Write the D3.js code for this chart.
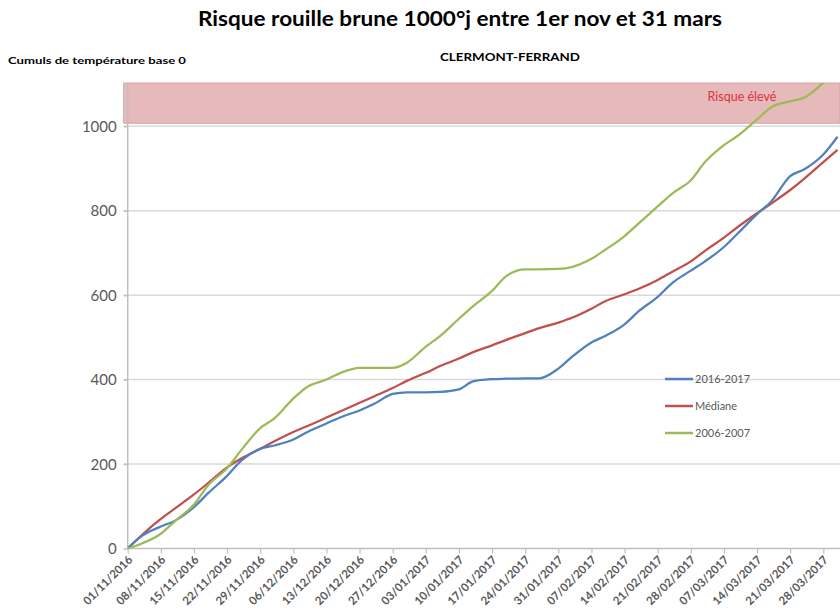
<!DOCTYPE html>
<html><head><meta charset="utf-8">
<script src="https://cdn.jsdelivr.net/npm/d3@7"></script>
<style>
body{margin:0;background:#fff;}
svg{display:block;font-family:Lato,"Open Sans",sans-serif;}
</style></head>
<body><svg id="c" width="840" height="614"></svg>
<script>
// ---- data ----
const startDate = "2016-11-01";
const dayOffsets = [0,3,7,10,14,17,21,24,28,31,35,38,42,45,49,52,56,59,63,66,70,73,77,80,84,87,91,94,98,101,105,108,112,115,119,122,126,129,133,136,140,143,147,150];
const serie2016 = [0,30,52,66,98,131,172,208,236,244,258,276,296,311,327,342,366,370,370,371,377,396,401,402,403,403,426,455,488,504,531,562,596,628,658,680,714,747,792,822,882,898,933,975];
const serieMediane = [0,32,70,95,128,155,192,213,236,254,276,290,310,325,345,360,380,397,416,432,450,465,481,494,510,522,535,547,568,586,602,615,636,655,680,705,736,762,794,817,849,876,915,944];
const serie2006 = [0,12,35,65,104,150,190,233,285,308,355,383,400,416,428,428,428,440,478,503,544,574,610,645,661,661,662,667,686,708,740,770,810,840,872,915,955,978,1016,1045,1059,1068,1103,1135];
const seriesNames = ["2016-2017","Médiane","2006-2007"];
const seriesColors = ["#4f81bd","#c0504d","#9bbb59"];
const tickLabels = ["01/11/2016","08/11/2016","15/11/2016","22/11/2016","29/11/2016","06/12/2016","13/12/2016","20/12/2016","27/12/2016","03/01/2017","10/01/2017","17/01/2017","24/01/2017","31/01/2017","07/02/2017","14/02/2017","21/02/2017","28/02/2017","07/03/2017","14/03/2017","21/03/2017","28/03/2017"];
const yTicks = [0,200,400,600,800,1000];
const riskBand = [1000,1100];
const title = "Risque rouille brune 1000°j entre 1er nov et 31 mars";
const subtitle = "CLERMONT-FERRAND";
const yLabel = "Cumuls de température base 0";
const riskLabel = "Risque élevé";

// ---- chart ----
(function(){
const svg = d3.select("#c");
const W = 840;
const parse = d3.timeParse("%Y-%m-%d");
const parseFr = d3.timeParse("%d/%m/%Y");
const t0 = parse(startDate);
const dates = dayOffsets.map(d => d3.timeDay.offset(t0, d));
const pLeft = 127.7, pBottom = 548.5, pTop = 84;
const x = d3.scaleTime().domain([t0, d3.timeDay.offset(t0,150)]).range([pLeft, pLeft + 150*4.732]);
const y = d3.scaleLinear().domain([0,1100]).range([pBottom, pTop]);

svg.append("defs").append("clipPath").attr("id","clip")
  .append("rect").attr("x",pLeft).attr("y",pTop-1).attr("width",W-pLeft).attr("height",pBottom-pTop+1);

// titles
svg.append("text").attr("x",460).attr("y",26).attr("text-anchor","middle")
  .attr("font-size",20).attr("font-weight","bold").attr("fill","#000")
  .attr("textLength",524).attr("lengthAdjust","spacingAndGlyphs").text(title);
svg.append("text").attr("x",510).attr("y",61).attr("text-anchor","middle")
  .attr("font-size",11).attr("font-weight","bold").attr("fill","#000")
  .attr("textLength",140).attr("lengthAdjust","spacingAndGlyphs").text(subtitle);
svg.append("text").attr("x",8).attr("y",64)
  .attr("font-size",10).attr("font-weight","bold").attr("fill","#000")
  .attr("textLength",178).attr("lengthAdjust","spacingAndGlyphs").text(yLabel);

// risk band
svg.append("rect").attr("x",pLeft-4).attr("y",y(riskBand[1])-1)
  .attr("width",W-pLeft+4).attr("height",y(riskBand[0])-y(riskBand[1])-2)
  .attr("fill","#e6baba").attr("stroke","#d9a3a3").attr("stroke-width",1);
svg.append("text").attr("x",742).attr("y",101).attr("text-anchor","middle")
  .attr("font-size",12.5).attr("fill","#e0303a").text(riskLabel);

// gridlines
svg.append("g").selectAll("line").data(yTicks.filter(v=>v>0)).join("line")
  .attr("x1",pLeft-4).attr("x2",W).attr("y1",d=>y(d)).attr("y2",d=>y(d))
  .attr("stroke","#d9d9d9").attr("stroke-width",1.5);

// y axis
const yAxis = svg.append("g").attr("transform",`translate(${pLeft},0)`)
  .call(d3.axisLeft(y).tickValues(yTicks).tickSize(4).tickPadding(7).tickFormat(d3.format("d")));
yAxis.select(".domain").attr("stroke","#bfbfbf").attr("stroke-width",1.5).attr("d",`M0,${pBottom}V${pTop}`);
yAxis.selectAll(".tick line").attr("stroke","#bfbfbf").attr("stroke-width",1.5);
yAxis.selectAll(".tick text").attr("font-size",15).attr("fill","#595959").attr("font-family","Lato,'Open Sans',sans-serif").attr("dy","0.35em");

// x axis
const xAxis = svg.append("g").attr("transform",`translate(0,${pBottom})`)
  .call(d3.axisBottom(x).tickValues(tickLabels.map(parseFr)).tickSize(5).tickFormat(d3.timeFormat("%d/%m/%Y")));
xAxis.select(".domain").attr("stroke","#bfbfbf").attr("stroke-width",1.5).attr("d",`M${pLeft},0H${W}`);
xAxis.selectAll(".tick line").attr("stroke","#bfbfbf").attr("stroke-width",1.2);
xAxis.selectAll(".tick text").attr("font-size",11.5).attr("font-weight","bold").attr("fill","#595959")
  .attr("font-family","Lato,'Open Sans',sans-serif")
  .attr("text-anchor","end").attr("dy",0).attr("y",0)
  .attr("transform","translate(5,12) rotate(-45)");

// lines
const allSeries = [serie2016, serieMediane, serie2006];
const line = d3.line().x((d,i)=>x(dates[i])).y(d=>y(d)).curve(d3.curveMonotoneX);
const lg = svg.append("g").attr("clip-path","url(#clip)");
[1,0,2].forEach(k=>{
  lg.append("path").datum(allSeries[k]).attr("d",line)
    .attr("fill","none").attr("stroke",seriesColors[k]).attr("stroke-width",2.25)
    .attr("stroke-linejoin","round");
});

// legend
const leg = svg.append("g").attr("transform","translate(665,379)");
seriesNames.forEach((n,i)=>{
  const g = leg.append("g").attr("transform",`translate(0,${i*27})`);
  g.append("line").attr("x1",0).attr("x2",28).attr("stroke",seriesColors[i]).attr("stroke-width",2.5);
  g.append("text").attr("x",30).attr("dy","0.35em").attr("font-size",11).attr("fill","#595959").text(n);
});
})();
</script></body></html>
